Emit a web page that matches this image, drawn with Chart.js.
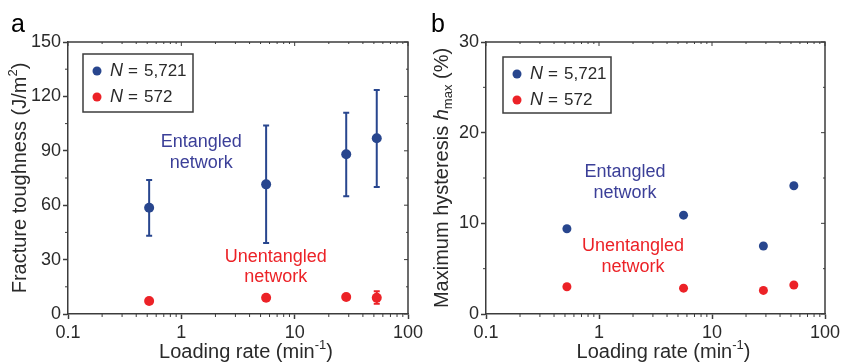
<!DOCTYPE html>
<html>
<head>
<meta charset="utf-8">
<script src="https://cdn.jsdelivr.net/npm/chart.js@4.4.0/dist/chart.umd.min.js"></script>
<style>
    body { margin: 0; background: #fff; width: 842px; height: 363px; overflow: hidden; position: relative; }
    .panel { position: absolute; top: 0; height: 363px; }
    #pa { left: 0; width: 440px; }
    #pb { left: 421px; width: 421px; }
</style>
</head>
<body>
<div class="panel" id="pa"><canvas id="chartA"></canvas></div>
<div class="panel" id="pb"><canvas id="chartB"></canvas></div>
<script>
// --- data ---
const loadingRates = [0.52, 5.6, 28.5, 53];
const xTickValues = [0.1, 1, 10, 100];
const xTickLabels = ['0.1', '1', '10', '100'];

const toughnessEntangled = [58.6, 71.5, 88.1, 96.9];
const toughnessEntangledLow = [43.2, 39.2, 64.9, 70.0];
const toughnessEntangledHigh = [73.9, 103.9, 111.0, 123.5];
const toughnessUnentangled = [7.2, 9.0, 9.4, 9.0];
const toughnessUnentangledLow = [null, null, null, 5.6];
const toughnessUnentangledHigh = [null, null, null, 12.5];
const toughnessTicks = [0, 30, 60, 90, 120, 150];

const hysteresisEntangled = [9.4, 10.9, 7.5, 14.15];
const hysteresisUnentangled = [3.0, 2.85, 2.6, 3.2];
const hysteresisTicks = [0, 10, 20, 30];

const legendLabels = ['5,721', '572'];

const BLUE = '#28468e';
const RED = '#ec2227';
const TEXT_BLUE = '#3b3f98';
const AXIS = '#3c3c3c';
const INK = '#2a2a2a';
const FONT = 'Liberation Sans, Arial, sans-serif';

function fontStr(r) {
    return (r.italic ? 'italic ' : '') + (r.size || 20) + 'px ' + FONT;
}

// draws a row of text runs centred on (cx, cy), optionally rotated
function drawRuns(ctx, runs, cx, cy, rot) {
    ctx.save();
    ctx.translate(cx, cy);
    if (rot) ctx.rotate(rot);
    let total = 0;
    runs.forEach(r => { ctx.font = fontStr(r); r.w = ctx.measureText(r.t).width; total += r.w; });
    let x = -total / 2;
    ctx.textBaseline = 'middle';
    ctx.textAlign = 'left';
    ctx.fillStyle = INK;
    runs.forEach(r => { ctx.font = fontStr(r); ctx.fillText(r.t, x, r.dy || 0); x += r.w; });
    ctx.restore();
}

const decorPlugin = {
    id: 'decor',
    beforeDatasetsDraw(chart, args, opts) {
        const ctx = chart.ctx;
        const xs = chart.scales.x, ys = chart.scales.y;
        // error bars
        (opts.errorBars || []).forEach(eb => {
            ctx.save();
            ctx.strokeStyle = eb.color;
            ctx.lineWidth = 2;
            eb.x.forEach((xv, i) => {
                if (eb.low[i] == null) return;
                const px = xs.getPixelForValue(xv);
                const lo = ys.getPixelForValue(eb.low[i]);
                const hi = ys.getPixelForValue(eb.high[i]);
                ctx.beginPath();
                ctx.moveTo(px, lo); ctx.lineTo(px, hi);
                ctx.moveTo(px - 3, lo); ctx.lineTo(px + 3, lo);
                ctx.moveTo(px - 3, hi); ctx.lineTo(px + 3, hi);
                ctx.stroke();
            });
            ctx.restore();
        });
    },
    afterDraw(chart, args, opts) {
        const ctx = chart.ctx;
        const a = chart.chartArea;
        const xs = chart.scales.x, ys = chart.scales.y;
        ctx.save();
        // top and right frame
        ctx.strokeStyle = AXIS;
        ctx.lineWidth = 1.5;
        ctx.beginPath();
        ctx.moveTo(a.left, a.top); ctx.lineTo(a.right, a.top); ctx.lineTo(a.right, a.bottom);
        ctx.stroke();

        // minor ticks
        ctx.lineWidth = 1;
        ctx.beginPath();
        [0.1, 1, 10].forEach(d => {
            for (let k = 2; k <= 9; k++) {
                const px = xs.getPixelForValue(k * d);
                ctx.moveTo(px, a.bottom); ctx.lineTo(px, a.bottom + 3);
                ctx.moveTo(px, a.top); ctx.lineTo(px, a.top + 2);
            }
        });
        xTickValues.forEach(v => {
            const px = xs.getPixelForValue(v);
            ctx.moveTo(px, a.top); ctx.lineTo(px, a.top + 4);
        });
        const yt = opts.yTicks;
        for (let i = 0; i < yt.length; i++) {
            const py = ys.getPixelForValue(yt[i]);
            ctx.moveTo(a.right, py); ctx.lineTo(a.right - 4, py);
            if (i < yt.length - 1) {
                const pm = ys.getPixelForValue((yt[i] + yt[i + 1]) / 2);
                ctx.moveTo(a.left, pm); ctx.lineTo(a.left - 3, pm);
                ctx.moveTo(a.right, pm); ctx.lineTo(a.right - 2, pm);
            }
        }
        ctx.stroke();

        // legend box
        const lg = opts.legend;
        const bx = a.left + lg.dx, by = a.top + lg.dy;
        ctx.lineWidth = 1.5;
        ctx.strokeRect(bx, by, lg.w, lg.h);
        lg.items.forEach((it, i) => {
            const cy = by + 17 + i * 26;
            ctx.fillStyle = it.color;
            ctx.beginPath();
            ctx.arc(bx + 14, cy, 4.5, 0, Math.PI * 2);
            ctx.fill();
            ctx.fillStyle = INK;
            ctx.textBaseline = 'middle';
            ctx.textAlign = 'left';
            ctx.font = 'italic 18px ' + FONT;
            ctx.fillText('N', bx + 27, cy);
            ctx.font = '17px ' + FONT;
            ctx.fillText('=', bx + 45, cy);
            ctx.fillText(it.label, bx + 61, cy);
        });

        // annotations in data space
        ctx.textAlign = 'center';
        ctx.textBaseline = 'middle';
        ctx.font = '18px ' + FONT;
        (opts.notes || []).forEach(n => {
            ctx.fillStyle = n.color;
            ctx.fillText(n.text, xs.getPixelForValue(n.x), ys.getPixelForValue(n.y));
        });

        // panel letter
        ctx.fillStyle = '#000';
        ctx.textAlign = 'left';
        ctx.textBaseline = 'alphabetic';
        ctx.font = '25px ' + FONT;
        ctx.fillText(opts.letter, opts.letterX, 32);
        ctx.restore();

        // axis titles
        drawRuns(ctx, opts.xTitle, (a.left + a.right) / 2 + 8, 352, 0);
        drawRuns(ctx, opts.yTitle, opts.yTitleX, (a.top + a.bottom) / 2, -Math.PI / 2);
    }
};

function makeChart(id, cfg) {
    return new Chart(document.getElementById(id), {
        type: 'scatter',
        data: {
            datasets: [
                { data: loadingRates.map((x, i) => ({ x: x, y: cfg.blue[i] })), backgroundColor: BLUE, pointRadius: cfg.radius, borderWidth: 0, pointHoverRadius: cfg.radius },
                { data: loadingRates.map((x, i) => ({ x: x, y: cfg.red[i] })), backgroundColor: RED, pointRadius: cfg.radius, borderWidth: 0, pointHoverRadius: cfg.radius }
            ]
        },
        options: {
            responsive: true,
            maintainAspectRatio: false,
            animation: false,
            events: [],
            layout: { padding: { left: 0, right: cfg.padRight, top: 42, bottom: 0 } },
            plugins: {
                legend: { display: false },
                tooltip: { enabled: false },
                decor: cfg.decor
            },
            scales: {
                x: {
                    type: 'logarithmic',
                    min: 0.1,
                    max: 100,
                    afterBuildTicks: s => { s.ticks = xTickValues.map(v => ({ value: v, major: true })); },
                    afterFit: s => { s.height = 49; s.paddingLeft = 0; s.paddingRight = 0; },
                    grid: { drawOnChartArea: false, tickLength: 5, tickColor: AXIS, tickWidth: 1.5 },
                    border: { color: AXIS, width: 1.5 },
                    ticks: {
                        autoSkip: false,
                        maxRotation: 0,
                        padding: 3,
                        color: INK,
                        font: { family: FONT, size: 18 },
                        callback: (v, i) => xTickLabels[i]
                    }
                },
                y: {
                    min: cfg.yTicks[0],
                    max: cfg.yTicks[cfg.yTicks.length - 1],
                    afterBuildTicks: s => { s.ticks = cfg.yTicks.map(v => ({ value: v })); },
                    afterFit: s => { s.width = cfg.yWidth; s.paddingTop = 0; s.paddingBottom = 0; },
                    grid: { drawOnChartArea: false, tickLength: 5, tickColor: AXIS, tickWidth: 1.5 },
                    border: { color: AXIS, width: 1.5 },
                    ticks: {
                        padding: 2,
                        color: INK,
                        font: { family: FONT, size: 18 }
                    }
                }
            }
        },
        plugins: [decorPlugin]
    });
}

makeChart('chartA', {
    blue: toughnessEntangled,
    red: toughnessUnentangled,
    radius: 5,
    padRight: 32,
    yWidth: 68,
    yTicks: toughnessTicks,
    decor: {
        yTicks: toughnessTicks,
        errorBars: [
            { x: loadingRates, low: toughnessEntangledLow, high: toughnessEntangledHigh, color: BLUE },
            { x: loadingRates, low: toughnessUnentangledLow, high: toughnessUnentangledHigh, color: RED }
        ],
        legend: { dx: 15, dy: 12, w: 110, h: 58, items: [{ color: BLUE, label: legendLabels[0] }, { color: RED, label: legendLabels[1] }] },
        notes: [
            { text: 'Entangled', x: 1.5, y: 94.9, color: TEXT_BLUE },
            { text: 'network', x: 1.5, y: 83.3, color: TEXT_BLUE },
            { text: 'Unentangled', x: 6.8, y: 31.4, color: RED },
            { text: 'network', x: 6.8, y: 20.4, color: RED }
        ],
        letter: 'a',
        letterX: 11,
        xTitle: [{ t: 'Loading rate (min' }, { t: '-1', size: 13, dy: -7 }, { t: ')' }],
        yTitle: [{ t: 'Fracture toughness (J/m' }, { t: '2', size: 13, dy: -7 }, { t: ')' }],
        yTitleX: 20
    }
});

makeChart('chartB', {
    blue: hysteresisEntangled,
    red: hysteresisUnentangled,
    radius: 4.5,
    padRight: 17,
    yWidth: 65,
    yTicks: hysteresisTicks,
    decor: {
        yTicks: hysteresisTicks,
        errorBars: [],
        legend: { dx: 17, dy: 15, w: 108, h: 56, items: [{ color: BLUE, label: legendLabels[0] }, { color: RED, label: legendLabels[1] }] },
        notes: [
            { text: 'Entangled', x: 1.7, y: 15.66, color: TEXT_BLUE },
            { text: 'network', x: 1.7, y: 13.34, color: TEXT_BLUE },
            { text: 'Unentangled', x: 2.0, y: 7.5, color: RED },
            { text: 'network', x: 2.0, y: 5.2, color: RED }
        ],
        letter: 'b',
        letterX: 10,
        xTitle: [{ t: 'Loading rate (min' }, { t: '-1', size: 13, dy: -7 }, { t: ')' }],
        yTitle: [{ t: 'Maximum hysteresis ' }, { t: 'h', italic: true }, { t: 'max', size: 13, dy: 6 }, { t: ' (%)' }],
        yTitleX: 21
    }
});
</script>
</body>
</html>
